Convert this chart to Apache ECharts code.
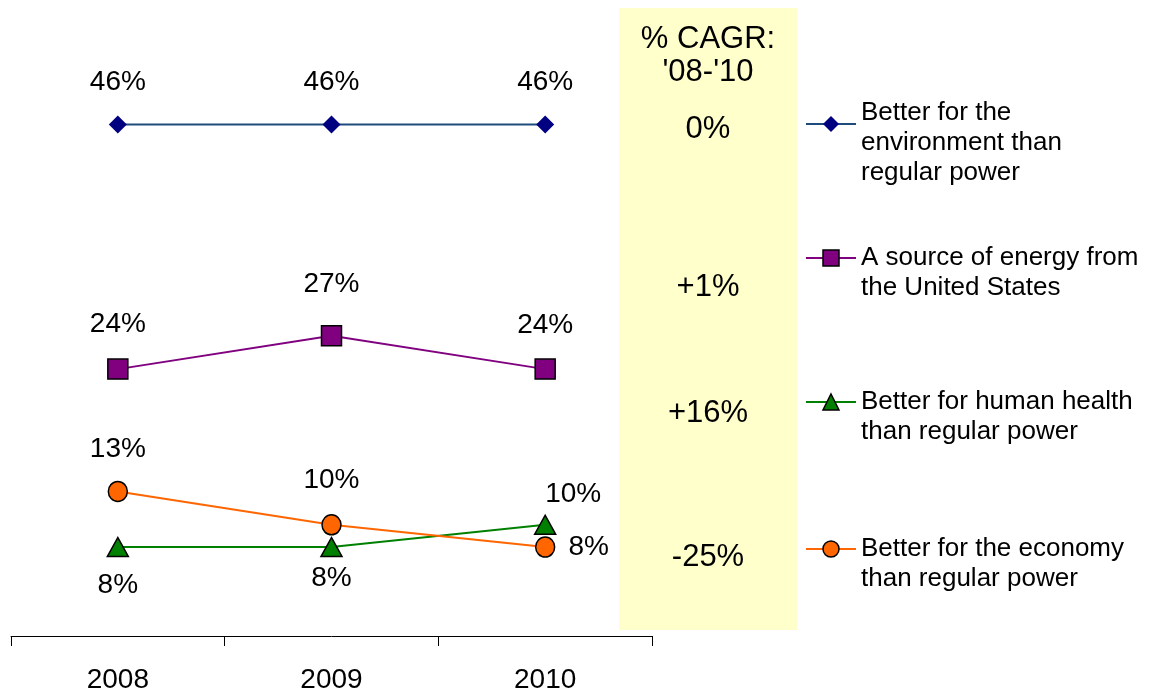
<!DOCTYPE html>
<html>
<head>
<meta charset="utf-8">
<script src="https://cdn.jsdelivr.net/npm/echarts@6/dist/echarts.min.js"></script>
<style>
html,body{margin:0;padding:0;background:#fff;}
#chart{width:1150px;height:694px;}
</style>
</head>
<body>
<div id="chart"></div>
<script>
const categories = ['2008', '2009', '2010'];
const seriesNames = [
  'Better for the\nenvironment than\nregular power',
  'A source of energy from\nthe United States',
  'Better for human health\nthan regular power',
  'Better for the economy\nthan regular power'
];
const envValues = [46, 46, 46];
const sourceValues = [24, 27, 24];
const healthValues = [8, 8, 10];
const economyValues = [13, 10, 8];
const cagrTitle = "% CAGR:\n'08-'10";
const cagrLabels = ['0%', '+1%', '+16%', '-25%'];

const FONT = '"Liberation Sans", Arial, sans-serif';
const FS_LABEL = 28;
const FS_LEGEND = 26;
const FS_CAGR = 31;

const chart = echarts.init(document.getElementById('chart'), null, {renderer: 'canvas'});

function mkData(values, labelCfgs) {
  return values.map((v, i) => ({value: v, label: labelCfgs[i]}));
}

const lbl = (position, distance, offset) => {
  const o = {position: position, distance: distance};
  if (offset) o.offset = offset;
  return o;
};

const seriesDefs = [
  {values: envValues, color: '#1F4A7C', symColor: '#000080', symbol: 'diamond', size: [18, 18], border: 0,
   labels: [lbl('top', 18), lbl('top', 18), lbl('top', 18)]},
  {values: sourceValues, color: '#800080', symColor: '#800080', symbol: 'rect', size: [20, 20], border: 1.5,
   labels: [lbl('top', 19), lbl('top', 26), lbl('top', 18)]},
  {values: healthValues, color: '#008000', symColor: '#008000', symbol: 'triangle', size: [21, 19], border: 1.5,
   labels: [lbl('bottom', 13), lbl('bottom', 6), lbl('top', 5, [28, 0])]},
  {values: economyValues, color: '#FF6600', symColor: '#FF6600', symbol: 'circle', size: [19, 20], border: 1.5,
   labels: [lbl('top', 16), lbl('top', 19), lbl('right', 13)]}
];

const series = seriesDefs.map((d, i) => ({
  name: seriesNames[i],
  type: 'line',
  data: mkData(d.values, d.labels),
  symbol: d.symbol,
  symbolSize: d.size,
  lineStyle: {color: d.color, width: 2},
  itemStyle: {color: d.symColor, borderColor: '#000', borderWidth: d.border},
  label: {show: true, formatter: '{c}%', color: '#000', fontFamily: FONT, fontSize: FS_LABEL, lineHeight: 30},
  emphasis: {disabled: true},
  z: 3 + i
}));

const legendTops = [78, 227, 371, 518];
const legendLead = [38, 30, 30, 30];
const legends = seriesNames.map((n, i) => ({
  data: [{name: n, itemStyle: {color: seriesDefs[i].symColor, borderColor: '#000', borderWidth: seriesDefs[i].border}}],
  left: 805,
  top: legendTops[i],
  orient: 'vertical',
  padding: 0,
  itemWidth: 50,
  itemHeight: 20,
  itemGap: 0,
  selectedMode: false,
  formatter: function (name) {
    return '{e| }\n' + name.split('\n').map(s => '{t|' + s + '}').join('\n');
  },
  textStyle: {
    color: '#000', fontFamily: FONT, fontSize: FS_LEGEND,
    rich: {
      e: {fontSize: 2, lineHeight: legendLead[i]},
      t: {fontSize: FS_LEGEND, lineHeight: 30, fontFamily: FONT, color: '#000'}
    }
  }
}));

const cagrY = [129, 287, 413, 557];
const graphics = [
  {type: 'rect', left: 619, top: 8, z: -10, shape: {width: 178, height: 622}, style: {fill: '#FFFFCC'}},
  {type: 'text', x: 708, y: 23, z: 10,
   style: {text: cagrTitle, fill: '#000', font: FS_CAGR + 'px ' + FONT, textAlign: 'center', lineHeight: 33}}
];
cagrLabels.forEach((t, i) => {
  graphics.push({type: 'text', x: 708, y: cagrY[i], z: 10,
    style: {text: t, fill: '#000', font: FS_CAGR + 'px ' + FONT, textAlign: 'center', textVerticalAlign: 'middle'}});
});

chart.setOption({
  animation: false,
  backgroundColor: '#fff',
  grid: {left: 11, right: 498, top: 80, bottom: 58, containLabel: false},
  xAxis: {
    type: 'category',
    data: categories,
    boundaryGap: true,
    axisLine: {lineStyle: {color: '#000', width: 1}},
    axisTick: {show: true, length: 10, inside: false, lineStyle: {color: '#000'}},
    axisLabel: {color: '#000', fontFamily: FONT, fontSize: FS_LABEL, margin: 30}
  },
  yAxis: {type: 'value', min: 0, max: 50, show: false, splitLine: {show: false}},
  legend: legends,
  graphic: graphics,
  series: series
});
</script>
</body>
</html>
